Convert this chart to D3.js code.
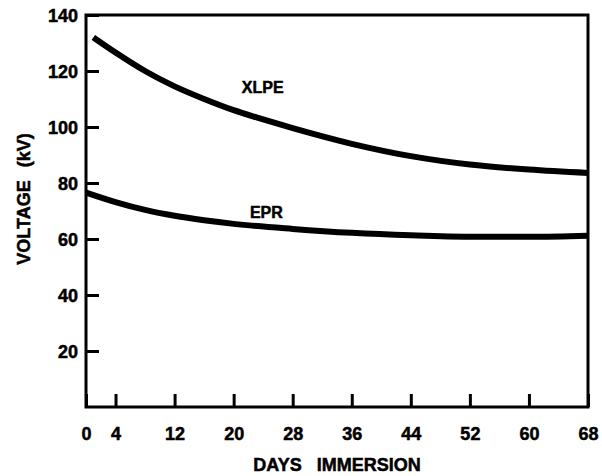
<!DOCTYPE html>
<html>
<head>
<meta charset="utf-8">
<script src="https://cdn.jsdelivr.net/npm/d3@7"></script>
<style>
  body { margin: 0; background: #fff; }
  text { font-family: "Liberation Sans", Arial, sans-serif; font-weight: bold; fill: #000; stroke: #000; stroke-width: 0.5px; }
</style>
</head>
<body>
<div id="chart"></div>
<script>
// values
var xlpeDays = [1, 4, 8, 12, 16, 20, 24, 28, 36, 44, 52, 60, 68]
var xlpeKv = [132, 126.6, 120, 114.5, 110, 106, 102.7, 99.6, 94, 89.6, 86.6, 84.8, 83.6]
var eprDays = [0, 4, 8, 12, 16, 20, 28, 36, 44, 52, 60, 68]
var eprKv = [76.6, 73.2, 70.4, 68.3, 66.7, 65.4, 63.6, 62.2, 61.3, 60.8, 60.8, 61.2]
var xTicks = [0, 4, 12, 20, 28, 36, 44, 52, 60, 68]
var yTicks = [20, 40, 60, 80, 100, 120, 140]
var seriesNames = ["XLPE", "EPR"]

var margin = { top: 15, right: 14, bottom: 69, left: 86 }
var width = 602 - margin.left - margin.right
var height = 476 - margin.top - margin.bottom

var svg = d3
  .select("#chart")
  .append("svg")
  .attr("width", 602)
  .attr("height", 476)
  .append("g")
  .attr("transform", "translate(" + margin.left + "," + margin.top + ")")

var x = d3.scaleLinear().domain([0, 68]).range([0, width])
var y = d3.scaleLinear().domain([0, 140]).range([height, 0])

// frame
svg
  .append("rect")
  .attr("x", 0)
  .attr("y", 0)
  .attr("width", width)
  .attr("height", height)
  .attr("fill", "none")
  .attr("stroke", "#000")
  .attr("stroke-width", 3)

// axes, ticks pointing inward
var yAxis = svg
  .append("g")
  .call(d3.axisLeft(y).tickValues(yTicks).tickSizeInner(-13).tickSizeOuter(0).tickPadding(8))
yAxis.select(".domain").remove()
yAxis.selectAll("line").attr("stroke-width", 3)
yAxis.selectAll("text").style("font-size", "18px").attr("dy", "0.36em")

var xAxis = svg
  .append("g")
  .attr("transform", "translate(0," + height + ")")
  .call(d3.axisBottom(x).tickValues(xTicks).tickSizeInner(-13).tickSizeOuter(0))
xAxis.select(".domain").remove()
xAxis.selectAll("line").attr("stroke-width", 3)
xAxis.selectAll("text").style("font-size", "18px").attr("y", 33).attr("dy", 0)

// axis titles
svg
  .append("text")
  .attr("transform", "translate(" + (24 - margin.left) + "," + (199 - margin.top) + ") rotate(-90)")
  .attr("text-anchor", "middle")
  .attr("dy", "0.36em")
  .style("font-size", "18px")
  .style("word-spacing", "8px")
  .text("VOLTAGE (kV)")

svg
  .append("text")
  .attr("x", 337 - margin.left)
  .attr("y", 471 - margin.top)
  .attr("text-anchor", "middle")
  .style("font-size", "18px")
  .style("word-spacing", "10px")
  .text("DAYS IMMERSION")

// curves
var line = d3
  .line()
  .x((d) => x(d[0]))
  .y((d) => y(d[1]))
  .curve(d3.curveMonotoneX)

var series = [d3.zip(xlpeDays, xlpeKv), d3.zip(eprDays, eprKv)]

svg
  .selectAll(".curve")
  .data(series)
  .enter()
  .append("path")
  .attr("class", "curve")
  .attr("d", line)
  .attr("fill", "none")
  .attr("stroke", "#000")
  .attr("stroke-width", 6)

// curve labels
var labelPos = [
  [21.1, 112],
  [22.2, 67.5],
]
svg
  .selectAll(".label")
  .data(seriesNames)
  .enter()
  .append("text")
  .attr("class", "label")
  .attr("x", (d, i) => x(labelPos[i][0]))
  .attr("y", (d, i) => y(labelPos[i][1]))
  .style("font-size", "16px")
  .text((d) => d)
</script>
</body>
</html>
